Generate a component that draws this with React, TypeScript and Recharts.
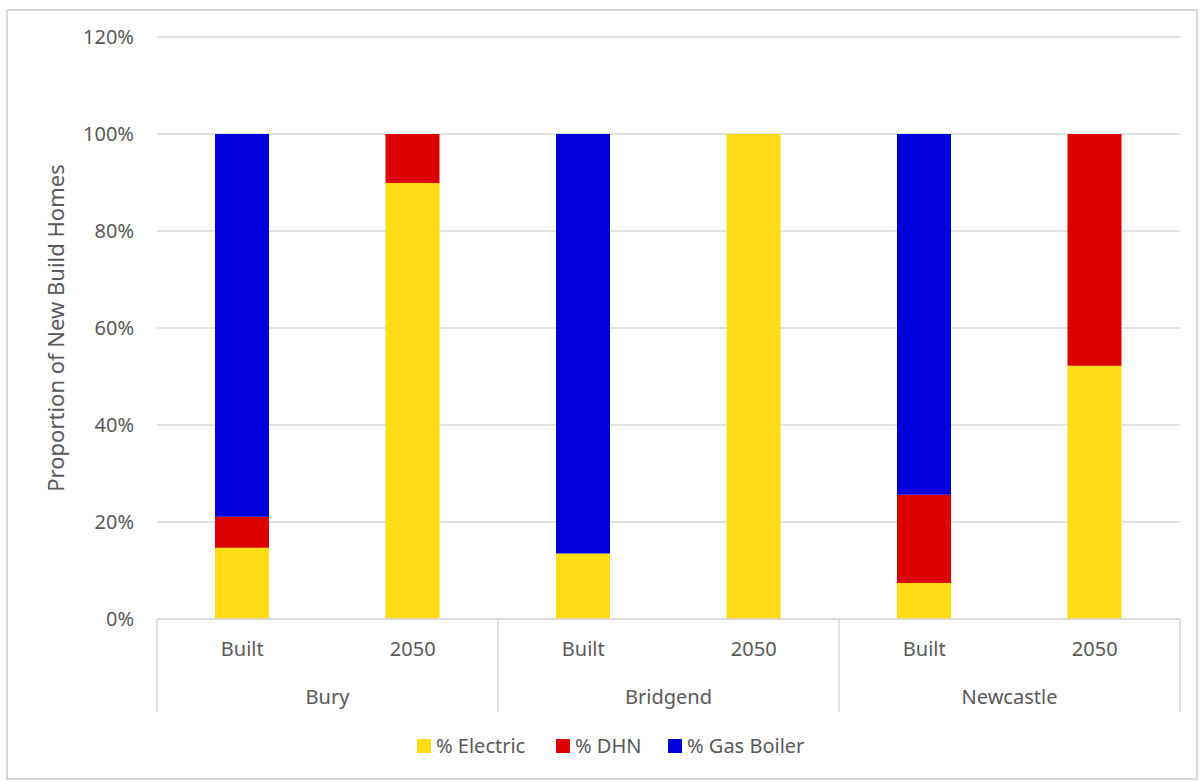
import { BarChart, Bar, XAxis, YAxis, CartesianGrid } from "recharts";

const categories = ["Built", "2050", "Built", "2050", "Built", "2050"];
const groups = ["Bury", "Bury", "Bridgend", "Bridgend", "Newcastle", "Newcastle"];
const electric = [14.7, 89.9, 13.5, 100, 7.4, 52.2];
const dhn = [6.4, 10.1, 0, 0, 18.2, 47.8];
const gasBoiler = [78.9, 0, 86.5, 0, 74.4, 0];
const yTicks = [0, 20, 40, 60, 80, 100, 120];

const SERIES = [
  { key: "electric", name: "% Electric", color: "#FFDC14" },
  { key: "dhn", name: "% DHN", color: "#DC0000" },
  { key: "gas", name: "% Gas Boiler", color: "#0000DC" },
];

const data = categories.map((label, i) => ({
  label,
  group: groups[i],
  electric: electric[i],
  dhn: dhn[i],
  gas: gasBoiler[i],
}));

const W = 1203;
const H = 782;
const PLOT_LEFT = 157;
const PLOT_RIGHT = 1180;
const PLOT_TOP = 37;
const PLOT_BOTTOM = 619;
const BAND = (PLOT_RIGHT - PLOT_LEFT) / categories.length;
const FONT = "'Noto Sans', sans-serif";
const TEXT = "#595959";
const LINE = "#D9D9D9";

function CategoryTick(props: any) {
  const { x, y, payload, index } = props;
  const group = groups[index];
  const first = index === 0 || groups[index - 1] !== group;
  const last = index === categories.length - 1;
  const top = PLOT_BOTTOM;
  const bottom = PLOT_BOTTOM + 93;
  return (
    <g>
      <text x={x} y={y + 29} textAnchor="middle" fill={TEXT} fontSize={20} fontFamily={FONT}>
        {payload.value}
      </text>
      {first && (
        <>
          <line x1={x - BAND / 2} x2={x - BAND / 2} y1={top} y2={bottom} stroke={LINE} strokeWidth={1.5} />
          <text x={x + BAND / 2} y={y + 77} textAnchor="middle" fill={TEXT} fontSize={20} fontFamily={FONT}>
            {group}
          </text>
        </>
      )}
      {last && <line x1={x + BAND / 2} x2={x + BAND / 2} y1={top} y2={bottom} stroke={LINE} strokeWidth={1.5} />}
    </g>
  );
}

function LegendRow() {
  const items = [
    { x: 417, ...SERIES[0] },
    { x: 556, ...SERIES[1] },
    { x: 668, ...SERIES[2] },
  ];
  return (
    <g>
      {items.map((it) => (
        <g key={it.key}>
          <rect x={it.x} y={739} width={14} height={14} fill={it.color} />
          <text x={it.x + 19} y={753} fill={TEXT} fontSize={20} fontFamily={FONT}>
            {it.name}
          </text>
        </g>
      ))}
    </g>
  );
}

export default function App() {
  const midY = (PLOT_TOP + PLOT_BOTTOM) / 2;
  return (
    <div style={{ position: "absolute", left: 0, top: 0, width: W, height: H, background: "#fff" }}>
      <div
        style={{
          position: "absolute",
          left: 6,
          top: 9,
          width: 1192,
          height: 771,
          border: `2px solid ${LINE}`,
          boxSizing: "border-box",
        }}
      />
      <BarChart
        width={W}
        height={H}
        data={data}
        barSize={54}
        margin={{ top: PLOT_TOP, right: W - PLOT_RIGHT, bottom: H - PLOT_BOTTOM - 93, left: PLOT_LEFT - 80 }}
        style={{ position: "absolute", left: 0, top: 0 }}
      >
        <CartesianGrid vertical={false} stroke={LINE} strokeWidth={1.5} />
        <XAxis
          dataKey="label"
          height={93}
          interval={0}
          tickLine={false}
          axisLine={{ stroke: LINE, strokeWidth: 1.5 }}
          tick={<CategoryTick />}
        />
        <YAxis
          width={80}
          domain={[0, 120]}
          ticks={yTicks}
          tickFormatter={(v) => `${v}%`}
          axisLine={false}
          tickLine={false}
          tickMargin={17}
          tick={{ fill: TEXT, fontSize: 20, fontFamily: FONT }}
        />
        {SERIES.map((s) => (
          <Bar key={s.key} dataKey={s.key} name={s.name} stackId="a" fill={s.color} isAnimationActive={false} />
        ))}
        <text
          x={64}
          y={midY}
          transform={`rotate(-90, 64, ${midY})`}
          textAnchor="middle"
          fill={TEXT}
          fontSize={22}
          fontFamily={FONT}
        >
          Proportion of New Build Homes
        </text>
        <LegendRow />
      </BarChart>
    </div>
  );
}
